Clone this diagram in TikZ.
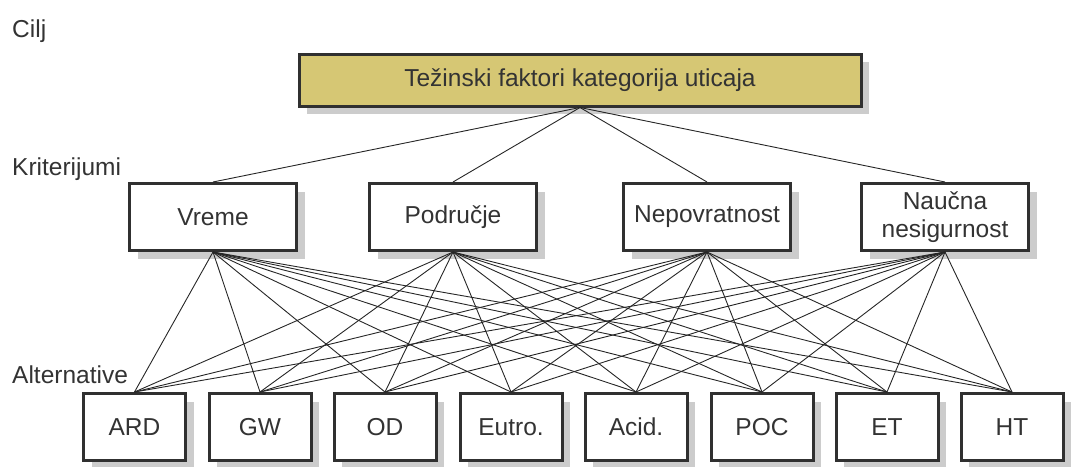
\documentclass[tikz,border=0pt]{standalone}
\usepackage{fontspec}
\setmainfont{Liberation Sans}
\usetikzlibrary{shadows}
\definecolor{goal-fill}{RGB}{214,199,116}
\definecolor{box-line}{RGB}{48,48,48}
\tikzset{
    shadowed/.style = {drop shadow={shadow xshift=8pt, shadow yshift=-8pt, fill=black!40}},
    plain-box/.style = {draw=box-line, fill=white, line width=3pt, rectangle, text=black!80, font=\fontsize{24.5}{28}\selectfont, shadowed},
    goal-box/.style = {plain-box, fill=goal-fill, minimum width=562pt, minimum height=52pt},
    crit-box/.style = {plain-box, align=center, minimum width=167pt, minimum height=67pt},
    alt-box/.style = {plain-box, minimum width=102pt, minimum height=67pt},
    level-label/.style = {anchor=base west, inner sep=0pt, text=black!80, font=\fontsize{24.5}{28}\selectfont},
    link/.style = {draw=black!85, line width=0.9pt},
}

\begin{document}
\begin{tikzpicture}[x=1pt, y=-1pt]
\useasboundingbox (0,0) rectangle (1075,466);

% levels
\node[level-label] (cilj) at (12,37) {Cilj};
\node[level-label] (kriterijumi) at (12,175) {Kriterijumi};
\node[level-label] (alternative) at (12,383) {Alternative};

% goal
\node[goal-box] (goal) at (580,80) {Težinski faktori kategorija uticaja};

% criteria
\node[crit-box] (vreme) at (213,217) {Vreme};
\node[crit-box] (podrucje) at (453,217) {Područje};
\node[crit-box] (nepovratnost) at (707,217) {Nepovratnost};
\node[crit-box] (naucna) at (945,217) {Naučna\\nesigurnost};

% alternatives
\node[alt-box] (ard) at (134.5,427) {ARD};
\node[alt-box] (gw) at (260,427) {GW};
\node[alt-box] (od) at (385,427) {OD};
\node[alt-box] (eutro) at (511,427) {Eutro.};
\node[alt-box] (acid) at (636,427) {Acid.};
\node[alt-box] (poc) at (762,427) {POC};
\node[alt-box] (et) at (887,427) {ET};
\node[alt-box] (ht) at (1012,427) {HT};

% links
\foreach \c in {vreme, podrucje, nepovratnost, naucna} {
    \draw[link] (goal.south) -- (\c.north);
    \foreach \a in {ard, gw, od, eutro, acid, poc, et, ht}
        \draw[link] (\c.south) -- (\a.north);
}
\end{tikzpicture}
\end{document}
